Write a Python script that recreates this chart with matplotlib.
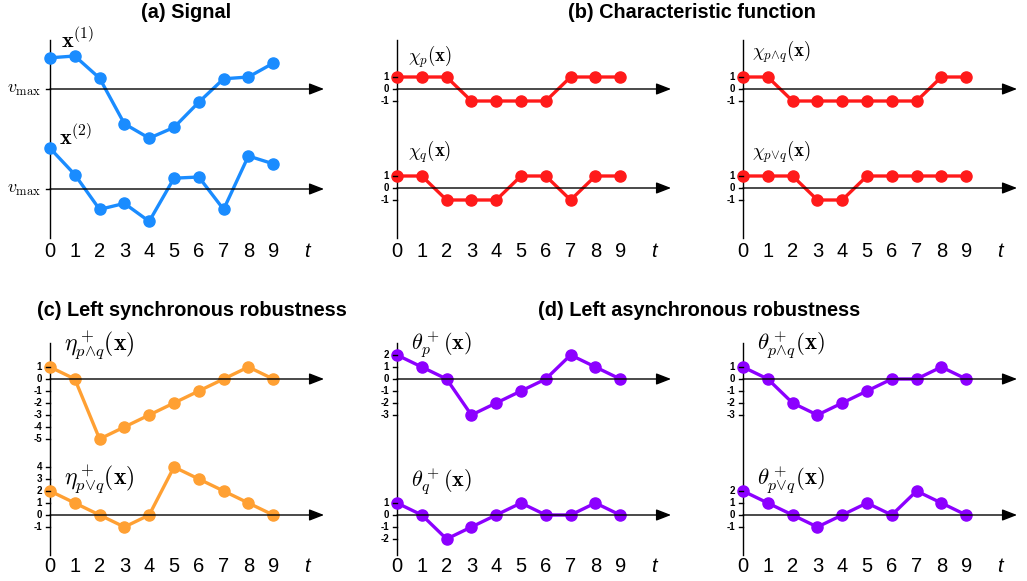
import numpy as np
import matplotlib.pyplot as plt

plt.rcParams['mathtext.fontset'] = 'cm'
plt.rcParams['font.family'] = ['Liberation Sans', 'DejaVu Sans']

t = np.arange(10)

# (a) signal, in axis units above/below v_max
sig1 = [2.6, 2.75, 0.9, -2.9, -4.1, -3.2, -1.1, 0.85, 1.0, 2.15]
sig2 = [3.4, 1.2, -1.7, -1.2, -2.7, 0.9, 1.0, -1.7, 2.75, 2.1]

# (b) characteristic functions
chi_p = [1, 1, 1, -1, -1, -1, -1, 1, 1, 1]
chi_q = [1, 1, -1, -1, -1, 1, 1, -1, 1, 1]
chi_and = [1, 1, -1, -1, -1, -1, -1, -1, 1, 1]
chi_or = [1, 1, 1, -1, -1, 1, 1, 1, 1, 1]

# (c) left synchronous robustness
eta_and = [1, 0, -5, -4, -3, -2, -1, 0, 1, 0]
eta_or = [2, 1, 0, -1, 0, 4, 3, 2, 1, 0]

# (d) left asynchronous robustness
theta_p = [2, 1, 0, -3, -2, -1, 0, 2, 1, 0]
theta_q = [1, 0, -2, -1, 0, 1, 0, 0, 1, 0]
theta_and = [1, 0, -2, -3, -2, -1, 0, 0, 1, 0]
theta_or = [2, 1, 0, -1, 0, 1, 0, 2, 1, 0]

W, H = 1027, 581
fig = plt.figure(figsize=(W/100, H/100), dpi=100)

dx = 24.8   # px per time step
dy = 12.0   # px per unit


def panel(x0, yb1, yb2, ytop, ybot, ylab):
    L, R = x0 - 50, x0 + 290
    T, B = yb1 - 60, ybot + 40
    ax = fig.add_axes([L/W, 1 - B/H, (R-L)/W, (B-T)/H])
    ax.set_xlim((L-x0)/dx, (R-x0)/dx)
    ax.set_ylim((yb1-B)/dy, (yb1-T)/dy)
    ax.axis('off')
    off = -(yb2-yb1)/dy
    ax.plot([0, 0], [(yb1-ytop)/dy, (yb1-ybot)/dy], color='k', lw=1)
    for o in (0, off):
        ax.annotate('', xy=(11.05, o), xytext=(0, o),
                    arrowprops=dict(arrowstyle='-|>,head_length=0.9,head_width=0.35',
                                    color='k', lw=1, shrinkA=0, shrinkB=0))
    for i in t:
        ax.text(i, (yb1-ylab)/dy, str(i), ha='center', va='center', fontsize=14.5)
    ax.text(10.35, (yb1-ylab)/dy, 't', ha='center', va='center', fontsize=14.5,
            fontstyle='italic')
    return ax, off


def series(ax, vals, off, color, ticks, label, lx, ly, fs):
    ax.plot(t, np.array(vals) + off, '-o', color=color, lw=2.4, ms=8,
            clip_on=False)
    for v in ticks:
        ax.plot([-4/dx, 0], [v+off, v+off], color='k', lw=1)
        ax.text(-8/dx, v+off, str(v), ha='right', va='center', fontsize=7,
                fontweight='bold')
    ax.text(lx, ly+off, label, ha='left', va='center', fontsize=fs)


blue = '#1a8cff'
red = '#ff1a1a'
orange = '#ffa033'
purple = '#8c00ff'

# (a)
ax, off = panel(50, 89, 189, 40, 238, 251)
ax.plot(t, sig1, '-o', color=blue, lw=2.4, ms=8, clip_on=False)
ax.plot(t, np.array(sig2) + off, '-o', color=blue, lw=2.4, ms=8, clip_on=False)
for o in (0, off):
    ax.plot([-4/dx, 0], [o, o], color='k', lw=1)
    ax.text(-9/dx, o, r'$v_{\max}$', ha='right', va='center', fontsize=13)
ax.text(0.45, 4.0, r'$\mathbf{x}^{(1)}$', ha='left', va='center', fontsize=16)
ax.text(0.35, 4.3+off, r'$\mathbf{x}^{(2)}$', ha='left', va='center', fontsize=16)

# (b)
ax, off = panel(397, 89, 188, 40, 238, 251)
series(ax, chi_p, 0, red, [1, 0, -1], r'$\chi_p(\mathbf{x})$', 0.45, 2.7, 13.5)
series(ax, chi_q, off, red, [1, 0, -1], r'$\chi_q(\mathbf{x})$', 0.45, 3.0, 13.5)
ax, off = panel(743, 89, 188, 40, 238, 251)
series(ax, chi_and, 0, red, [1, 0, -1], r'$\chi_{p{\wedge}q}(\mathbf{x})$', 0.35, 3.1, 13.5)
series(ax, chi_or, off, red, [1, 0, -1], r'$\chi_{p{\vee}q}(\mathbf{x})$', 0.35, 3.0, 13.5)

# (c)
ax, off = panel(50, 379, 515, 343, 555, 566)
series(ax, eta_and, 0, orange, [1, 0, -1, -2, -3, -4, -5],
       r'$\eta^+_{p{\wedge}q}(\mathbf{x})$', 0.55, 2.8, 17)
series(ax, eta_or, off, orange, [4, 3, 2, 1, 0, -1],
       r'$\eta^+_{p{\vee}q}(\mathbf{x})$', 0.55, 2.9, 17)

# (d)
ax, off = panel(397, 379, 515, 343, 555, 566)
series(ax, theta_p, 0, purple, [2, 1, 0, -1, -2, -3],
       r'$\theta^+_p(\mathbf{x})$', 0.55, 2.8, 16)
series(ax, theta_q, off, purple, [1, 0, -1, -2],
       r'$\theta^+_q(\mathbf{x})$', 0.55, 2.7, 16)
ax, off = panel(743, 379, 515, 343, 555, 566)
series(ax, theta_and, 0, purple, [1, 0, -1, -2, -3],
       r'$\theta^+_{p{\wedge}q}(\mathbf{x})$', 0.55, 2.8, 16.5)
series(ax, theta_or, off, purple, [2, 1, 0, -1],
       r'$\theta^+_{p{\vee}q}(\mathbf{x})$', 0.55, 2.9, 16.5)

tkw = dict(ha='center', va='center', fontsize=14.3, fontweight='bold')
fig.text(186/W, 1 - 12/H, '(a) Signal', **tkw)
fig.text(692/W, 1 - 12/H, '(b) Characteristic function', **tkw)
fig.text(192/W, 1 - 311/H, '(c) Left synchronous robustness', **tkw)
fig.text(699/W, 1 - 311/H, '(d) Left asynchronous robustness', **tkw)

fig.savefig('out.png', dpi=100)
